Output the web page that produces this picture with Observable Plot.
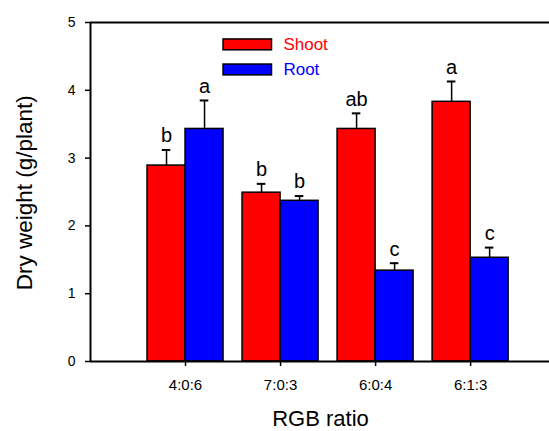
<!DOCTYPE html>
<html>
<head>
<meta charset="utf-8">
<script src="https://cdn.jsdelivr.net/npm/d3@7"></script>
<script src="https://cdn.jsdelivr.net/npm/@observablehq/plot@0.6"></script>
<style>
  body { margin: 0; background: #fff; }
  svg { font-family: "Liberation Sans", Arial, sans-serif; }
</style>
</head>
<body>
<div id="chart"></div>
<script>
const categories = ["4:0:6", "7:0:3", "6:0:4", "6:1:3"];
const shootValues = [2.89, 2.49, 3.43, 3.83];
const shootErrors = [0.23, 0.13, 0.23, 0.30];
const shootLetters = ["b", "b", "ab", "a"];
const rootValues = [3.43, 2.37, 1.34, 1.53];
const rootErrors = [0.42, 0.07, 0.11, 0.15];
const rootLetters = ["a", "b", "c", "c"];
const yTicks = [0, 1, 2, 3, 4, 5];
const series = ["Shoot", "Root"];
const colors = ["#ff0000", "#0000ff"];

const rows = [];
categories.forEach((c, i) => {
  rows.push({cat: c, pos: i + 1, series: "Shoot", x1: i + 1 - 0.4, x2: i + 1, value: shootValues[i], err: shootErrors[i], letter: shootLetters[i]});
  rows.push({cat: c, pos: i + 1, series: "Root", x1: i + 1, x2: i + 1.4, value: rootValues[i], err: rootErrors[i], letter: rootLetters[i]});
});
rows.forEach(d => { d.xc = (d.x1 + d.x2) / 2; d.top = d.value + d.err; });

const capHalf = 0.045;

const chart = Plot.plot({
  width: 549,
  height: 431,
  marginLeft: 90,
  marginRight: 0,
  marginTop: 22,
  marginBottom: 70,
  style: {fontFamily: "'Liberation Sans', Arial, sans-serif", background: "#fff"},
  x: {domain: [0, 4.83], axis: null},
  y: {domain: [0, 5], axis: null},
  color: {domain: series, range: colors},
  marks: [
    Plot.rectY(rows, {x1: "x1", x2: "x2", y1: 0, y2: "value", fill: "series", stroke: "#000", strokeWidth: 1.5}),
    Plot.ruleX(rows, {x: "xc", y1: "value", y2: "top", stroke: "#000", strokeWidth: 1.5}),
    Plot.ruleY(rows, {y: "top", x1: d => d.xc - capHalf, x2: d => d.xc + capHalf, stroke: "#000", strokeWidth: 2}),
    Plot.text(rows, {x: "xc", y: "top", text: "letter", dy: -14, fontSize: 20, fill: "#000"}),
    Plot.ruleY([5], {stroke: "#000", strokeWidth: 2}),
    Plot.ruleY([0], {stroke: "#000", strokeWidth: 2}),
    Plot.ruleX([0], {stroke: "#000", strokeWidth: 2}),
    Plot.axisY({ticks: yTicks, tickSize: 5, tickPadding: 10, fontSize: 14, label: null, tickFormat: d3.format("d"), strokeWidth: 1.5, color: "#000"}),
    Plot.axisX({ticks: categories.map((c, i) => i + 1), tickFormat: d => categories[d - 1], tickSize: 5, tickPadding: 13, fontSize: 15, label: null, strokeWidth: 1.5, color: "#000"}),
    // legend
    Plot.rect(series, {x1: 1.4, x2: 1.91, y1: (d, i) => 4.75 - i * 0.37, y2: (d, i) => 4.59 - i * 0.37, fill: d => d, stroke: "#000", strokeWidth: 1.5}),
    Plot.text(series, {x: 2.03, y: (d, i) => 4.67 - i * 0.37, text: d => d, fill: (d, i) => colors[i], textAnchor: "start", fontSize: 17}),
    // axis titles
    Plot.text(["Dry weight (g/plant)"], {x: () => 0, y: () => 2.49, dx: -66, rotate: -90, text: d => d, fontSize: 22.5, fill: "#000"}),
    Plot.text(["RGB ratio"], {x: () => 2.42, y: () => 0, dy: 57, text: d => d, fontSize: 22, fill: "#000"})
  ]
});
document.getElementById("chart").append(chart);
</script>
</body>
</html>
